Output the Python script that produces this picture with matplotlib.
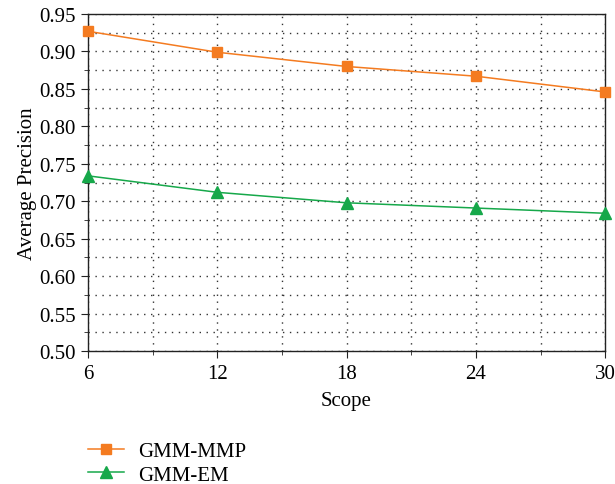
import matplotlib
matplotlib.use("Agg")
import matplotlib.pyplot as plt
from matplotlib.ticker import MultipleLocator

plt.rcParams['font.family'] = ['Liberation Serif', 'DejaVu Serif']

scope = [6, 12, 18, 24, 30]
gmm_mmp = [0.927, 0.899, 0.880, 0.867, 0.846]
gmm_em = [0.734, 0.712, 0.698, 0.691, 0.684]
x_ticks = [6, 12, 18, 24, 30]
y_ticks = [0.50, 0.55, 0.60, 0.65, 0.70, 0.75, 0.80, 0.85, 0.90, 0.95]

orange = '#F47B20'
green = '#16A84A'

fig = plt.figure(figsize=(6.15, 4.85), dpi=100)
ax = fig.add_axes([0.143, 0.274, 0.841, 0.695])

ax.plot(scope, gmm_mmp, color=orange, marker='s', markersize=7, linewidth=1.1,
        label='GMM-MMP', clip_on=False, zorder=5)
ax.plot(scope, gmm_em, color=green, marker='^', markersize=8, linewidth=1.1,
        label='GMM-EM', clip_on=False, zorder=5)

ax.set_xlim(6, 30)
ax.set_ylim(0.50, 0.95)
ax.set_xticks(x_ticks)
ax.set_yticks(y_ticks)
ax.set_yticklabels([f"{v:.2f}" for v in y_ticks])
ax.xaxis.set_minor_locator(MultipleLocator(3))
ax.yaxis.set_minor_locator(MultipleLocator(0.025))
ax.tick_params(which='both', direction='out', labelsize=15, color='#222222')
ax.tick_params(which='major', length=5, pad=4)
ax.tick_params(which='minor', length=3)
ax.grid(which='both', linestyle=(0, (1, 4)), color='#333333', linewidth=1.0)
for s in ax.spines.values():
    s.set_color('#222222')
    s.set_linewidth(1.0)

ax.set_xlabel('Scope', fontsize=15, labelpad=6)
ax.set_ylabel('Average Precision', fontsize=15, labelpad=1)

fig.legend(loc='upper left', bbox_to_anchor=(0.13, 0.105), frameon=False,
           fontsize=15, handlelength=1.7, labelspacing=0.2, borderaxespad=0,
           handletextpad=0.7)

fig.savefig('out.png', dpi=100)
